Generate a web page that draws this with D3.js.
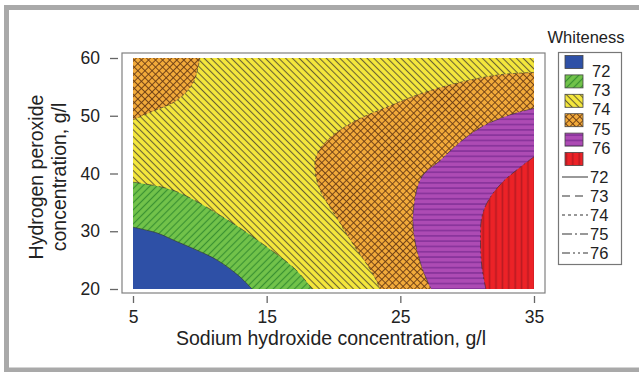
<!DOCTYPE html>
<html><head><meta charset="utf-8">
<script src="https://cdn.jsdelivr.net/npm/d3@7"></script>
<style>
html,body{margin:0;padding:0;background:#fff;}
text{font-family:"Liberation Sans",Arial,sans-serif;fill:#222;}
</style></head>
<body><svg id="c" width="639" height="372"></svg>
<script>
// ---- data ----
const xTicks = [5, 15, 25, 35];
const yTicks = [20, 30, 40, 50, 60];
const xDomain = [5, 35];
const yDomain = [20, 60];
const levels = [72, 73, 74, 75, 76];
// contour lines: [sodium hydroxide g/l, hydrogen peroxide g/l]
const contour72 = [[5,30.7],[6.8,29.7],[8,28.5],[11.3,25],[13,22.1],[13.9,20]];
const contour73 = [[5,38.5],[8,37.1],[11.7,32.5],[15,27.3],[17.2,23.3],[18.4,20]];
const contour74right = [[35,57.5],[32.4,57.1],[29.5,55.8],[26.5,53.8],[24,51.5],[21.7,49.2],[19.8,46.3],[18.8,43.5],[18.6,41],[19,37.1],[20.2,32.5],[21.4,28],[22.9,22.8],[23.5,20]];
const contour74left = [[5,49.3],[6.3,50.6],[8.3,52.7],[9.5,55.7],[10,60]];
const contour75 = [[35,51.3],[33,50],[31.1,48.1],[29.5,45.5],[28,42.3],[26.6,39.4],[26,34.2],[26,29.7],[26.6,23.8],[27.3,20]];
const contour76 = [[35,42.9],[33.7,40.6],[32.6,38.4],[31.6,35.4],[31.1,32.5],[31,28],[31.1,23.8],[31.4,20]];

// ---- styles ----
const svg = d3.select("#c");
const defs = svg.append("defs");
function stripe(id, bg, fg, size, angle, sw, cross) {
  const p = defs.append("pattern").attr("id", id).attr("patternUnits", "userSpaceOnUse")
    .attr("width", size).attr("height", size);
  if (angle !== null) p.attr("patternTransform", `rotate(${angle})`);
  p.append("rect").attr("width", size).attr("height", size).attr("fill", bg);
  p.append("line").attr("x1", size/2).attr("x2", size/2).attr("y1", 0).attr("y2", size)
    .attr("stroke", fg).attr("stroke-width", sw);
  if (cross) p.append("line").attr("y1", size/2).attr("y2", size/2).attr("x1", 0).attr("x2", size)
    .attr("stroke", fg).attr("stroke-width", sw);
}
defs.append("pattern").attr("id","p72").attr("patternUnits","userSpaceOnUse").attr("width",4).attr("height",4)
  .append("rect").attr("width",4).attr("height",4).attr("fill","#2e50a6");
stripe("p73", "#72c34a", "#3a9232", 5, 45, 1.2, false);
stripe("p74", "#f5e83c", "#6a6232", 4.8, -45, 1.1, false);
stripe("p75", "#f2aa3a", "#6a3c14", 5, 45, 0.9, true);
stripe("p76", "#ad4bb4", "#86329a", 5.3, 90, 1.6, false);
stripe("p77", "#ec2227", "#b81a22", 6.4, 0, 1.6, false);
const fills = ["url(#p72)","url(#p73)","url(#p74)","url(#p75)","url(#p76)","url(#p77)"];
const dashes = ["none", "8,5", "3,3", "10,3,2,3", "8,3,2,3,2,3"];

// outer border
svg.append("rect").attr("x",6.5).attr("y",7.5).attr("width",640).attr("height",362.5)
  .attr("fill","none").attr("stroke","#a9a9a9").attr("stroke-width",5);

const x = d3.scaleLinear().domain(xDomain).range([133, 534]);
const y = d3.scaleLinear().domain(yDomain).range([289, 58]);

// plot frame
svg.append("rect").attr("x",122).attr("y",53).attr("width",423).attr("height",240)
  .attr("fill","#fff").attr("stroke","#808080").attr("stroke-width",1.2);

defs.append("clipPath").attr("id","clip").append("rect")
  .attr("x", x(5)).attr("y", y(60)).attr("width", x(35)-x(5)).attr("height", y(20)-y(60));
const g = svg.append("g").attr("clip-path","url(#clip)");

const line = d3.line().x(d => x(d[0])).y(d => y(d[1])).curve(d3.curveCatmullRom.alpha(0.5));
function region(pts, corners) {
  return line(pts) + corners.map(c => `L${x(c[0])},${y(c[1])}`).join("") + "Z";
}
// base (<72)
g.append("rect").attr("x", x(5)).attr("y", y(60)).attr("width", x(35)-x(5)).attr("height", y(20)-y(60))
  .attr("fill", fills[0]);
const regions = [
  {d: region(contour72, [[35,20],[35,60],[5,60]]), f: fills[1]},
  {d: region(contour73, [[35,20],[35,60],[5,60]]), f: fills[2]},
  {d: region(contour74right, [[35,20]]), f: fills[3]},
  {d: region(contour74left, [[5,60]]), f: fills[3]},
  {d: region(contour75, [[35,20]]), f: fills[4]},
  {d: region(contour76, [[35,20]]), f: fills[5]},
];
g.selectAll("path.reg").data(regions).join("path").attr("class","reg")
  .attr("d", d => d.d).attr("fill", d => d.f);

const contourLines = [
  {pts: contour72, i: 0}, {pts: contour73, i: 1}, {pts: contour74right, i: 2},
  {pts: contour74left, i: 2}, {pts: contour75, i: 3}, {pts: contour76, i: 4}];
g.selectAll("path.cl").data(contourLines).join("path").attr("class","cl")
  .attr("d", d => line(d.pts)).attr("fill","none").attr("stroke","#333")
  .attr("stroke-width",0.8).attr("stroke-opacity",0.8)
  .attr("stroke-dasharray", d => dashes[d.i]);

// axes
const xAxis = svg.append("g").attr("transform","translate(0,296)")
  .call(d3.axisBottom(x).tickValues(xTicks).tickSize(7).tickPadding(8).tickFormat(d3.format("d")));
const yAxis = svg.append("g").attr("transform","translate(118,0)")
  .call(d3.axisLeft(y).tickValues(yTicks).tickSize(8).tickPadding(10).tickFormat(d3.format("d")));
[xAxis, yAxis].forEach(a => {
  a.select(".domain").remove();
  a.selectAll(".tick line").attr("stroke","#666").attr("stroke-width",1.3);
  a.selectAll(".tick text").attr("font-size",17.5).attr("fill","#222")
    .attr("font-family","Liberation Sans, Arial, sans-serif");
});

svg.append("text").attr("x",331).attr("y",345).attr("text-anchor","middle").attr("font-size",19.5)
  .text("Sodium hydroxide concentration, g/l");
const yl = svg.append("g").attr("transform","translate(0,177) rotate(-90)");
yl.append("text").attr("x",0).attr("y",43).attr("text-anchor","middle").attr("font-size",19.5).text("Hydrogen peroxide");
yl.append("text").attr("x",0).attr("y",66).attr("text-anchor","middle").attr("font-size",19.5).text("concentration, g/l");

// legend
svg.append("text").attr("x",586).attr("y",43).attr("text-anchor","middle").attr("font-size",16.5).text("Whiteness");
svg.append("rect").attr("x",558.5).attr("y",52.5).attr("width",63).attr("height",212)
  .attr("fill","#fff").attr("stroke","#777").attr("stroke-width",1.2);
const lg = svg.append("g");
lg.selectAll("rect.sw").data(fills).join("rect").attr("class","sw")
  .attr("x",565).attr("y",(d,i)=>55.5+19.4*i).attr("width",18).attr("height",13)
  .attr("fill", d => d).attr("stroke","#444").attr("stroke-width",0.8);
lg.selectAll("text.fl").data(levels).join("text").attr("class","fl")
  .attr("x",592).attr("y",(d,i)=>71+19.3*i).attr("dy","0.35em").attr("font-size",16.5).text(d => d);
lg.selectAll("line.ll").data(levels).join("line").attr("class","ll")
  .attr("x1",562).attr("x2",588).attr("y1",(d,i)=>177+19*i).attr("y2",(d,i)=>177+19*i)
  .attr("stroke","#777").attr("stroke-width",1.5).attr("stroke-dasharray",(d,i)=>dashes[i]);
lg.selectAll("text.ll").data(levels).join("text").attr("class","ll")
  .attr("x",590).attr("y",(d,i)=>177+19*i).attr("dy","0.35em").attr("font-size",16.5).text(d => d);
</script></body></html>
